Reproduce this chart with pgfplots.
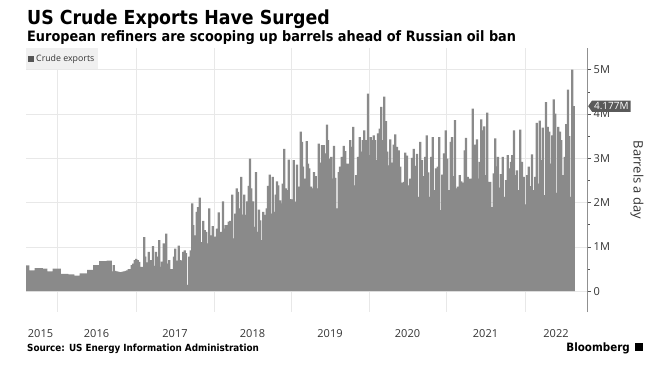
\documentclass[border=0pt]{standalone}
\usepackage{fontspec}
\usepackage{pgfplots}
\usepackage{pgfplotstable}
\pgfplotsset{compat=1.18}
\usetikzlibrary{shapes.symbols}
\setmainfont{Open Sans}
\newfontfamily\condfont{DejaVu Sans Condensed}
\definecolor{bargray}{HTML}{8A8A8A}
\definecolor{gridgray}{HTML}{E8E8E8}
\definecolor{axisgray}{HTML}{555555}
\definecolor{txtgray}{HTML}{333333}
\definecolor{legbg}{HTML}{F0F0F0}
\definecolor{tagbg}{HTML}{5A5A5A}

\pgfplotstableread{
x y
26.75 0.58
28.25 0.58
29.75 0.47
31.25 0.47
32.75 0.47
34.25 0.47
35.75 0.52
37.25 0.52
38.75 0.52
40.25 0.52
41.75 0.52
43.25 0.51
44.75 0.51
46.25 0.51
47.75 0.45
49.25 0.45
50.75 0.45
52.25 0.45
53.75 0.51
55.25 0.51
56.75 0.51
58.25 0.51
59.75 0.51
61.25 0.39
62.75 0.39
64.25 0.39
65.75 0.39
67.25 0.39
68.75 0.38
70.25 0.38
71.75 0.38
73.25 0.38
74.75 0.35
76.25 0.35
77.75 0.35
79.25 0.35
80.75 0.40
82.25 0.40
83.75 0.40
85.25 0.40
86.75 0.40
88.25 0.48
89.75 0.48
91.25 0.48
92.75 0.48
94.25 0.59
95.75 0.59
97.25 0.59
98.75 0.59
100.25 0.68
101.75 0.68
103.25 0.68
104.75 0.68
106.25 0.68
107.75 0.69
109.25 0.69
110.75 0.69
112.25 0.45
113.75 0.59
115.25 0.46
116.75 0.45
118.25 0.44
119.75 0.43
121.25 0.43
122.75 0.44
124.25 0.45
125.75 0.46
127.25 0.47
128.75 0.50
130.25 0.50
131.75 0.59
133.25 0.62
134.75 0.70
136.25 0.73
137.75 0.70
139.25 0.66
140.75 0.55
142.25 0.55
144.3 1.22
145.3 0.78
147.0 0.65
148.7 0.89
150.7 0.70
153.0 1.02
154.7 0.57
156.0 0.89
157.7 0.78
159.3 1.15
161.0 0.55
162.0 0.67
163.7 1.08
164.7 0.62
166.3 1.30
167.7 0.62
169.3 0.70
170.7 0.50
172.7 0.50
174.0 0.78
175.3 0.96
177.0 0.69
178.7 1.03
180.3 0.70
182.0 0.69
183.3 0.89
184.7 0.92
186.0 0.86
188.0 0.14
189.3 0.78
190.7 0.92
192.3 1.98
193.3 1.49
195.0 1.26
196.7 1.79
198.0 1.90
199.7 2.11
201.0 0.86
202.3 1.11
203.3 1.59
204.7 1.38
206.3 1.34
207.7 1.08
209.3 1.87
210.7 1.26
212.7 1.47
214.0 1.00
215.3 1.23
217.0 1.41
218.7 1.78
220.0 1.26
221.3 1.34
223.0 2.03
224.3 1.41
225.7 1.49
227.3 1.49
228.7 1.57
230.3 1.59
232.3 2.18
233.7 1.19
235.3 1.75
236.7 2.32
238.0 2.24
239.7 1.87
241.3 2.58
242.7 1.73
244.3 2.18
245.7 1.72
247.3 2.03
248.7 2.38
250.0 2.99
251.3 2.32
253.0 2.03
254.3 1.45
256.0 2.69
257.3 1.34
259.0 1.84
260.3 1.60
262.0 1.15
263.3 1.79
265.3 1.72
266.7 1.87
268.0 2.38
269.7 2.63
271.0 1.75
272.7 2.58
274.0 1.79
275.7 2.18
277.0 2.48
278.3 2.39
280.0 2.05
281.3 1.98
282.7 2.43
284.3 3.21
285.7 2.32
287.3 2.28
288.7 2.97
290.3 2.08
292.0 2.07
293.7 2.96
295.3 2.02
297.0 2.86
298.7 2.36
300.7 3.60
302.0 3.37
303.0 2.81
304.7 2.54
306.7 3.39
308.0 2.88
309.3 2.77
311.0 2.36
312.7 2.32
314.0 2.69
315.7 2.60
317.3 2.32
318.7 3.33
320.3 2.90
322.0 3.30
323.7 3.30
325.3 3.11
327.0 3.76
328.0 3.41
329.7 2.99
331.3 3.03
332.7 2.54
334.0 3.28
335.3 2.56
337.0 1.87
338.7 2.69
340.0 2.81
341.7 3.03
343.7 3.28
345.3 3.16
347.0 2.88
348.7 2.88
350.3 3.41
352.0 3.26
353.3 3.71
355.0 2.39
356.3 2.62
358.0 3.03
359.7 3.48
361.3 3.15
362.7 3.41
364.3 3.63
366.0 3.41
368.0 4.46
369.3 3.07
370.7 3.48
372.0 3.41
373.7 3.52
375.0 3.41
376.7 2.96
378.0 3.56
379.7 3.67
381.3 4.16
382.7 3.41
384.3 4.39
386.0 3.84
387.3 3.15
388.7 2.84
390.3 3.43
392.0 2.90
393.7 3.31
395.3 3.54
397.0 3.26
398.7 3.18
400.3 2.81
402.0 2.45
404.0 2.47
405.3 3.13
407.0 3.06
408.7 2.39
410.3 2.54
412.0 3.01
413.7 3.21
415.3 2.83
417.0 3.10
418.7 2.13
420.3 3.37
422.0 2.96
423.7 2.60
425.3 3.03
426.7 3.52
428.3 2.68
430.0 2.13
431.3 3.03
432.7 3.48
434.3 2.28
436.0 2.77
437.7 2.81
439.3 3.48
440.7 1.83
442.3 2.63
444.0 3.11
445.7 3.63
447.3 2.99
449.0 2.28
450.7 3.37
452.0 3.48
453.3 2.60
455.0 3.86
456.3 2.32
458.0 2.36
459.7 2.62
461.3 2.48
462.7 2.45
464.7 3.18
466.0 3.46
467.7 2.58
469.3 2.54
471.0 2.54
472.7 4.12
474.0 1.79
475.3 3.31
477.0 3.43
478.0 2.54
479.7 2.92
481.3 3.88
482.7 3.63
484.3 3.72
486.0 2.62
487.3 4.03
488.7 2.47
490.3 2.47
492.0 1.90
493.7 2.66
495.3 3.45
496.7 2.82
498.0 3.03
499.7 2.34
501.0 2.64
502.7 3.03
504.3 2.13
506.0 2.51
507.7 3.07
509.3 2.77
511.0 2.92
512.3 3.07
514.0 3.63
515.3 2.62
517.0 2.73
518.3 2.28
520.3 3.65
522.0 2.92
523.7 2.58
525.3 1.96
527.0 2.62
528.7 2.81
530.3 2.37
532.0 3.09
533.7 2.28
535.3 2.58
536.7 3.80
538.0 2.43
539.7 3.85
541.0 2.96
542.7 3.69
544.3 2.17
546.0 4.27
547.7 3.71
549.3 3.60
550.7 2.88
552.3 3.52
553.7 4.33
555.3 4.01
557.0 2.22
558.3 3.71
560.0 3.60
561.3 3.41
563.0 2.62
564.7 3.03
566.3 3.77
568.0 4.55
569.3 3.50
570.7 2.13
572.3 5.00
573.7 4.177
}\exports

\begin{document}
\begin{tikzpicture}[x=1pt,y=1pt]
\path[use as bounding box] (0,0) rectangle (661,-369);
\node[anchor=base west, inner sep=0pt, font=\condfont\bfseries\fontsize{19.3}{19.3}\selectfont] at (27,-25) {US Crude Exports Have Surged};
\node[anchor=base west, inner sep=0pt, font=\condfont\bfseries\fontsize{14.3}{14.3}\selectfont] at (27,-41.5) {European refiners are scooping up barrels ahead of Russian oil ban};
\begin{axis}[
  at={(26pt,-312pt)}, anchor=south west,
  scale only axis, width=561.7pt, height=264pt,
  xmin=26, xmax=587.7, ymin=-0.47, ymax=5.49,
  axis line style={draw=none},
  xtick={57,136,214,291,369,446,525},
  xticklabels={},
  xtick style={draw=none},
  ytick={0,1,2,3,4,5},
  yticklabels={0,1M,2M,3M,4M,5M},
  minor ytick={0.5,1.5,2.5,3.5,4.5},
  ytick pos=right,
  yticklabel pos=right,
  tick align=outside,
  major tick length=3.5pt,
  minor tick length=2pt,
  ytick style={axisgray, line width=0.6pt},
  minor y tick style={axisgray, line width=0.6pt},
  yticklabel style={font=\fontsize{11}{11}\selectfont, text=txtgray, xshift=-1pt},
  grid=major,
  major grid style={gridgray, line width=0.6pt},
  legend style={at={(0,1)}, anchor=north west, fill=legbg, draw=none,
    font=\fontsize{8.8}{8.8}\selectfont, text=txtgray, inner xsep=2pt, inner ysep=4.5pt,
    legend cell align=left},
  legend image code/.code={\fill[axisgray] (0pt,-3pt) rectangle (6pt,3pt);},
]
\addplot[ybar, bar width=2.2, fill=bargray, draw=none] table[x=x, y=y] {\exports};
\addlegendentry{Crude exports}
\draw[axisgray, line width=0.7pt] (rel axis cs:1,0) -- (rel axis cs:1,1);
\coordinate (tag) at (axis cs:587.9,4.177);
\end{axis}
\node[signal, signal to=west, signal pointer angle=110, fill=tagbg, text=white,
  font=\fontsize{10}{10}\selectfont, inner xsep=2pt, inner ysep=2pt, anchor=west] at (tag) {4.177M};
\node[rotate=-90, font=\fontsize{13}{13}\selectfont, text=txtgray] at (637,-180) {Barrels a day};
\foreach \xx/\yr in {40.5/2015, 96.5/2016, 175/2017, 252.5/2018, 330/2019, 407.5/2020, 485.5/2021, 556/2022}{
  \node[anchor=base, inner sep=0pt, font=\fontsize{11}{11}\selectfont, text=txtgray] at (\xx,-337) {\yr};
}
\node[anchor=base west, inner sep=0pt, font=\condfont\bfseries\fontsize{9.8}{9.8}\selectfont] at (27,-351) {Source: US Energy Information Administration};
\node[anchor=base east, inner sep=0pt, font=\condfont\bfseries\fontsize{11.5}{11.5}\selectfont] at (630,-351) {Bloomberg};
\fill[black] (634.5,-351) rectangle (642.5,-342.5);
\end{tikzpicture}
\end{document}
